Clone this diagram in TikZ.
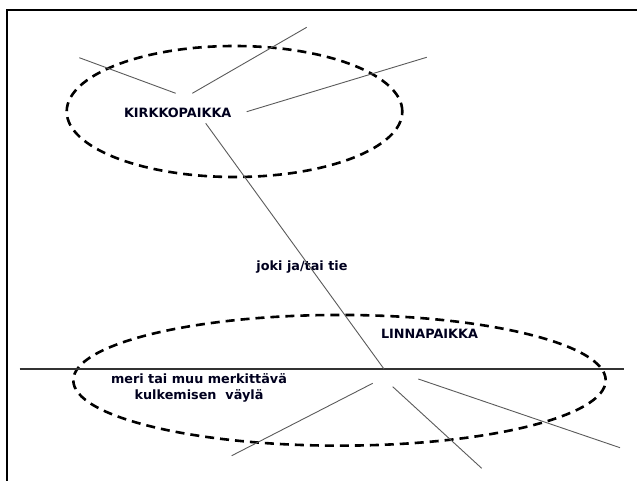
\documentclass[tikz,border=0pt]{standalone}
\usepackage{fontspec}
\setmainfont{DejaVu Sans}
\usetikzlibrary{shapes.geometric}
\definecolor{txt}{RGB}{0,0,30}
\definecolor{thin}{RGB}{90,90,90}
\tikzset{
  lbl/.style={font=\fontsize{12.8}{16}\selectfont\bfseries, text=txt, inner sep=0pt, align=center},
  area/.style={ellipse, draw=black, line width=2.6pt, dash pattern=on 9pt off 6pt, inner sep=0pt},
  ray/.style={draw=thin, line width=0.9pt},
  frameline/.style={draw=black, line width=2pt},
  sealine/.style={draw=black!80, line width=1.1pt}
}
\begin{document}
\begin{tikzpicture}[x=1pt,y=-1pt]
\useasboundingbox (0,0) rectangle (637,481);
% frame (left and top edges)
\coordinate (fbl) at (7,481);
\coordinate (ftl) at (7,10);
\coordinate (ftr) at (637,10);
\draw[frameline] (fbl) -- (ftl) -- (ftr);
% areas
\node[area, minimum width=335.6pt, minimum height=131pt] (kirkkoalue) at (234.5,111.5) {};
\node[area, minimum width=532.4pt, minimum height=130.7pt] (linna) at (339.5,380.3) {};
% labels
\node[lbl] (kirkko) at (177.7,113.3) {KIRKKOPAIKKA};
\node[lbl] (joki) at (302,267.5) {joki ja/tai tie};
\node[lbl] (linnapaikka) at (429.5,334) {LINNAPAIKKA};
\node[lbl] (meri) at (199,388) {meri tai muu merkittävä\\kulkemisen\ \ väylä};
% sea line
\coordinate (seaL) at (19.5,369);
\coordinate (seaR) at (624,369);
\draw[sealine] (seaL) -- (seaR);
% rays around church
\coordinate (a1) at (79.3,57.7);   \coordinate (a2) at (175.7,93.3);
\coordinate (b1) at (192.3,93.3);  \coordinate (b2) at (306.7,27.3);
\coordinate (c1) at (246.7,111.7); \coordinate (c2) at (426.7,57.3);
\draw[ray] (a1) -- (a2);
\draw[ray] (b1) -- (b2);
\draw[ray] (c1) -- (c2);
% river / road
\coordinate (r1) at (205.7,123.3); \coordinate (r2) at (384,369);
\draw[ray] (r1) -- (r2);
% rays around castle
\coordinate (d1) at (372.7,383.3); \coordinate (d2) at (231.7,455.7);
\coordinate (e1) at (392.7,386.7); \coordinate (e2) at (481.7,468.3);
\coordinate (f1) at (418.3,379);   \coordinate (f2) at (620,447.7);
\draw[ray] (d1) -- (d2);
\draw[ray] (e1) -- (e2);
\draw[ray] (f1) -- (f2);
\end{tikzpicture}
\end{document}
